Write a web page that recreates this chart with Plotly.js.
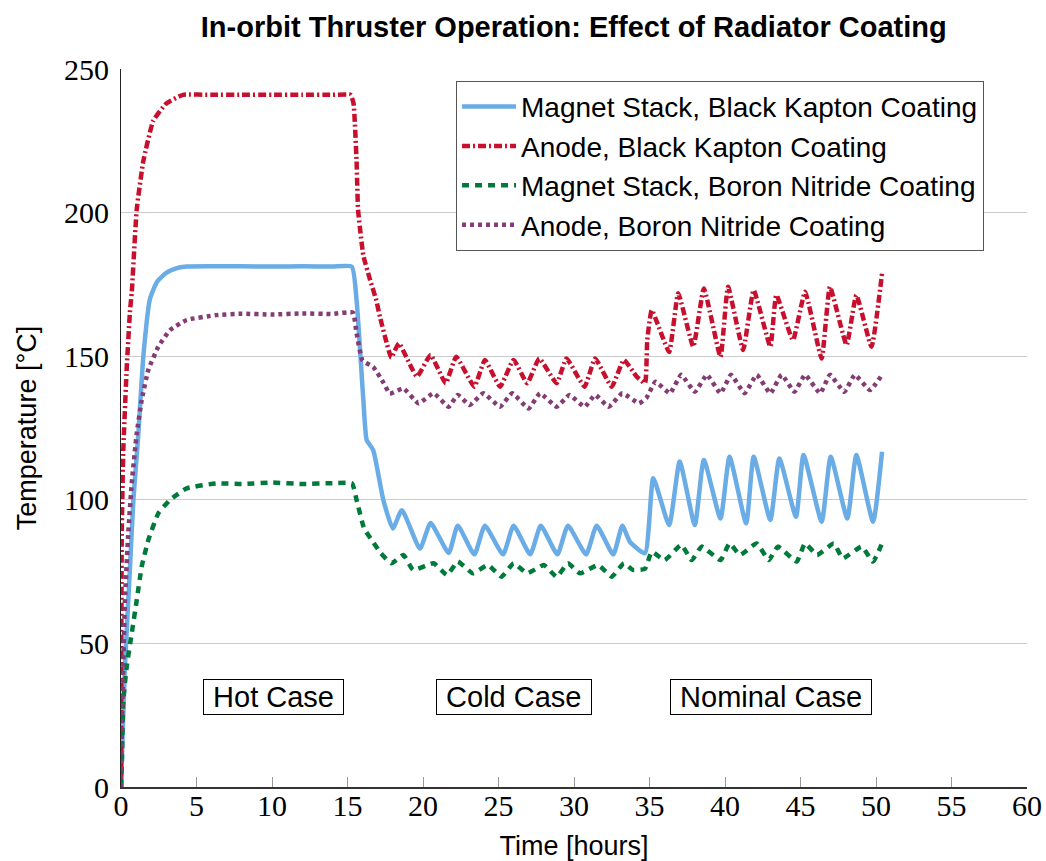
<!DOCTYPE html>
<html>
<head>
<meta charset="utf-8">
<script src="https://cdn.plot.ly/plotly-3.0.1.min.js"></script>
<style>html,body{margin:0;padding:0;background:#fff;}#chart{width:1046px;height:861px;}</style>
</head>
<body>
<div id="chart"></div>
<script>
// Time [hours] and Temperature [°C] series
const magnetKaptonX = [0, 0.04, 0.26, 0.6, 0.82, 1.15, 1.48, 1.92, 2.4, 3.0, 3.6, 4.35, 6, 8, 10, 12, 14, 15.28, 15.6, 16.05, 16.27, 16.7, 17.37, 18.0, 18.6, 19.8, 20.5, 21.7, 22.3, 23.4, 24.1, 25.3, 26.0, 27.1, 27.8, 28.9, 29.6, 30.8, 31.5, 32.6, 33.2, 33.7, 34.7, 35.25, 36.3, 37.0, 38.0, 38.6, 39.7, 40.3, 41.4, 41.9, 43.0, 43.6, 44.7, 45.2, 46.4, 47.0, 48.1, 48.7, 49.8, 50.4];
const magnetKaptonY = [0, 7, 42, 77, 100, 123, 150, 170, 176, 179, 180.5, 181.2, 181.3, 181.3, 181.2, 181.3, 181.2, 181.2, 169.6, 134.7, 120.8, 117.3, 100, 90, 96.4, 83, 91.9, 81.5, 91, 81, 91, 81, 91, 81, 91, 81, 91, 81, 91, 81, 91, 85.4, 81.4, 107.5, 91.2, 113.3, 91.2, 113.9, 93.5, 115, 91.8, 115, 93, 114.4, 94.1, 115.6, 92.4, 115, 93.5, 115.6, 92.4, 116.7];

const anodeKaptonX = [0, 0.05, 0.15, 0.38, 0.6, 0.71, 1.04, 1.48, 2.14, 3.0, 4.1, 6, 8, 10, 12, 14, 15.2, 15.4, 15.6, 15.7, 16.05, 16.5, 16.9, 17.15, 17.6, 17.9, 18.4, 19.6, 20.5, 21.5, 22.2, 23.4, 24.1, 25.1, 26.0, 26.9, 27.7, 28.85, 29.5, 30.7, 31.4, 32.5, 33.3, 34.15, 34.7, 34.85, 35.15, 36.3, 36.9, 37.9, 38.6, 39.7, 40.2, 41.2, 41.9, 43.0, 43.4, 44.5, 45.3, 46.4, 46.95, 48.05, 48.7, 49.7, 50.4];
const anodeKaptonY = [0, 88, 117, 146, 166, 172, 201, 218, 232, 238, 241, 241, 241, 241, 241, 241, 241, 238, 218, 201, 185, 176.5, 169.6, 163.7, 154.5, 149.5, 154.5, 142.9, 150.4, 140.6, 149.8, 139.4, 148.7, 139.4, 148.7, 140.6, 149.2, 140.6, 149.2, 139.4, 149.2, 139.4, 148.7, 142.9, 140.6, 155.6, 166, 151.5, 171.9, 153.3, 173.6, 149.8, 174.2, 152.2, 173, 153.3, 171.3, 155.6, 172.4, 149.2, 174.2, 153.9, 171.3, 153.3, 178.9];

const magnetNitrideX = [0, 0.05, 0.15, 0.38, 0.71, 1.04, 1.37, 1.81, 2.47, 3.25, 4.35, 6.3, 8, 10, 12, 14, 15.3, 15.6, 16.1, 16.6, 17.2, 17.9, 18.7, 19.35, 20.7, 21.6, 22.3, 23.3, 24.3, 25.2, 26.0, 26.9, 28.0, 28.85, 29.6, 30.4, 31.6, 32.5, 33.3, 33.9, 34.7, 35.15, 36.0, 37.1, 37.8, 38.45, 39.7, 40.3, 41.0, 42.1, 42.9, 43.5, 44.75, 45.3, 46.1, 47.2, 47.8, 49.05, 49.8, 50.4];
const magnetNitrideY = [0, 7, 30, 42, 53.5, 65, 76.7, 86, 95.3, 100, 104, 105.7, 105.5, 106, 105.5, 105.8, 105.7, 100, 90, 86, 81.5, 77.9, 80.8, 75.6, 77.9, 73.8, 78.5, 74.4, 77.3, 73.2, 77.9, 74.4, 77.3, 73.2, 77.9, 74.4, 77.3, 73.2, 77.9, 75.6, 76, 81.9, 79, 84.3, 79, 83.7, 79, 84.8, 80.8, 84.8, 79, 83.7, 78.5, 84.8, 80.8, 84.8, 79.6, 83.7, 78.5, 84.8];

const anodeNitrideX = [0, 0.05, 0.15, 0.26, 0.48, 0.71, 1.04, 1.37, 1.81, 2.47, 3.25, 4.35, 6.3, 8, 10, 12, 14, 15.35, 15.6, 16.0, 16.7, 17.4, 17.8, 18.7, 19.7, 20.7, 21.7, 22.3, 23.1, 24.0, 25.1, 25.9, 27.0, 27.75, 28.85, 29.7, 30.7, 31.4, 32.3, 33.2, 34.3, 34.8, 35.4, 36.35, 37.1, 38.0, 38.8, 39.7, 40.4, 41.3, 42.1, 43.0, 43.75, 44.6, 45.3, 46.3, 46.95, 47.9, 48.6, 49.6, 50.4];
const anodeNitrideY = [0, 18.8, 42, 65, 88.3, 105.7, 123, 134.7, 145.2, 153.3, 159.1, 162.6, 164.3, 164.8, 164.5, 164.9, 164.7, 165.2, 158, 148.4, 146.3, 140.6, 137, 138.8, 133.6, 137.1, 132.4, 136.5, 133, 137.1, 132.4, 137.1, 131.8, 137.1, 132.4, 136.5, 132.4, 136.5, 132.4, 137.1, 133.6, 135.5, 141.1, 137.1, 143.5, 137.6, 143.5, 137.1, 143.5, 137.1, 143.5, 137.1, 143.5, 137.6, 143.5, 137.1, 143.5, 137.6, 143.5, 138.2, 143.5];

const seriesNames = ["Magnet Stack, Black Kapton Coating", "Anode, Black Kapton Coating", "Magnet Stack, Boron Nitride Coating", "Anode, Boron Nitride Coating"];
const caseLabels = ["Hot Case", "Cold Case", "Nominal Case"];
const caseX = [10.1, 26.0, 43.05];
const caseY = [31.3, 31.3, 31.3];
const xTicks = [0, 5, 10, 15, 20, 25, 30, 35, 40, 45, 50, 55, 60];
const yTicks = [0, 50, 100, 150, 200, 250];

const sans = "Liberation Sans, Arial, sans-serif";
const serif = "Liberation Serif, Times New Roman, serif";

const traces = [
  {x: magnetKaptonX, y: magnetKaptonY, name: seriesNames[0], mode: "lines",
   line: {color: "#6aace6", width: 4.5, shape: "spline", smoothing: 0.5}},
  {x: anodeKaptonX, y: anodeKaptonY, name: seriesNames[1], mode: "lines",
   line: {color: "#c8102e", width: 4.5, dash: "8px,3px,2px,3px", shape: "spline", smoothing: 0.4}},
  {x: magnetNitrideX, y: magnetNitrideY, name: seriesNames[2], mode: "lines",
   line: {color: "#007a3a", width: 4.5, dash: "7px,6px", shape: "spline", smoothing: 0.4}},
  {x: anodeNitrideX, y: anodeNitrideY, name: seriesNames[3], mode: "lines",
   line: {color: "#833c74", width: 4.5, dash: "4px,4px", shape: "spline", smoothing: 0.4}}
];

const annotations = caseLabels.map((t, i) => ({
  x: caseX[i], y: caseY[i], xref: "x", yref: "y", text: "&nbsp;" + t + "&nbsp;", showarrow: false,
  font: {family: sans, size: 29, color: "#000"},
  bgcolor: "#fff", bordercolor: "#000", borderwidth: 1, borderpad: 1
}));

const layout = {
  width: 1046, height: 861,
  margin: {l: 121, r: 19, t: 69, b: 74},
  paper_bgcolor: "#fff", plot_bgcolor: "#fff",
  title: {text: "<b>In-orbit Thruster Operation: Effect of Radiator Coating</b>",
          font: {family: sans, size: 29, color: "#000"},
          x: 0.5485, xanchor: "center", y: 0.969, yanchor: "middle"},
  xaxis: {
    range: [0, 60], tickvals: xTicks, ticktext: xTicks.map(String),
    ticks: "inside", ticklen: 10, tickcolor: "#999", tickwidth: 1,
    showline: true, linecolor: "#333", linewidth: 1.5,
    showgrid: false, zeroline: false,
    tickfont: {family: serif, size: 30, color: "#000"},
    ticklabelstandoff: -9,
    title: {text: "Time [hours]", font: {family: sans, size: 27, color: "#000"}, standoff: 17},
    automargin: false
  },
  yaxis: {
    range: [0, 250], tickvals: yTicks, ticktext: yTicks.map(String),
    ticks: "", showline: true, linecolor: "#222", linewidth: 1,
    showgrid: true, gridcolor: "#cccccc", gridwidth: 1, zeroline: false,
    tickfont: {family: serif, size: 30, color: "#000"},
    ticklabelstandoff: 5,
    title: {text: "Temperature [°C]", font: {family: sans, size: 27, color: "#000"}, standoff: 19},
    automargin: false
  },
  legend: {
    x: 0.3698, y: 0.9835, xanchor: "left", yanchor: "top",
    bgcolor: "#fff", bordercolor: "#555", borderwidth: 1,
    font: {family: sans, size: 28, color: "#000"},
    itemwidth: 54, tracegroupgap: 0
  },
  showlegend: true,
  annotations: annotations
};

Plotly.newPlot("chart", traces, layout, {staticPlot: true, displayModeBar: false});
</script>
</body>
</html>
